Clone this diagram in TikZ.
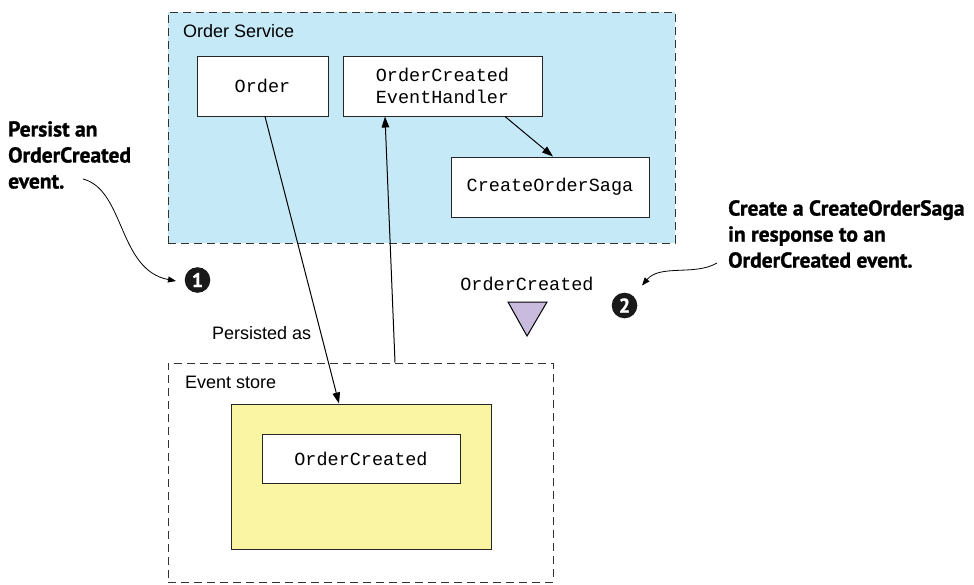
\documentclass[tikz,border=0pt]{standalone}
\usepackage{fontspec}
\setmainfont{Liberation Sans}
\newfontfamily\monof{Liberation Mono}
\newfontfamily\callf[FakeBold=1.2]{PT Sans Bold}
\usetikzlibrary{arrows.meta}
\definecolor{svcblue}{HTML}{C6E9F8}
\definecolor{storeyellow}{HTML}{F9F5A3}
\definecolor{lav}{HTML}{C9BBDD}
\definecolor{dashgray}{HTML}{333333}
\tikzset{
  box/.style={draw=black!85, line width=1pt, fill=white, inner sep=0pt, align=center,
    font=\monof\fontsize{18.5}{21.5}\selectfont},
  container/.style={draw=dashgray, line width=1pt, dash pattern=on 8pt off 5pt, inner sep=0pt},
  lbl/.style={font=\fontsize{18}{22}\selectfont, inner sep=0pt, anchor=west},
  arr/.style={line width=1pt, -{Triangle[length=11pt,width=7.5pt]}},
  callarr/.style={line width=0.8pt, -{Triangle[length=8pt,width=6pt]}},
  callout/.style={font=\callf\fontsize{21.5}{26}\selectfont, align=left, inner sep=0pt, anchor=north west},
  numtext/.style={text=white, inner sep=0pt, font=\callf\fontsize{20}{20}\selectfont}
}
\begin{document}
\begin{tikzpicture}[x=1pt,y=-1pt]
\useasboundingbox (0,0) rectangle (974,584);
% containers
\node[container, fill=svcblue, minimum width=507pt, minimum height=231pt] (svc) at (421.5,127.5) {};
\node[lbl] (svclbl) at (183,31) {Order Service};
\node[container, fill=white, minimum width=385pt, minimum height=219pt] (store) at (360.5,472.5) {};
\node[lbl] (storelbl) at (185,382) {Event store};
\node[draw=black!85, line width=1pt, fill=storeyellow, minimum width=260pt, minimum height=145pt, inner sep=0pt] (yellow) at (361,476.5) {};
% boxes
\node[box, minimum width=131pt, minimum height=60pt] (order) at (262.5,86) {Order};
\node[box, minimum width=199pt, minimum height=60pt] (handler) at (442.5,86) {OrderCreated\\EventHandler};
\node[box, minimum width=198pt, minimum height=60pt] (saga) at (550,187) {CreateOrderSaga};
\node[box, minimum width=198pt, minimum height=49pt] (evt) at (361,458.5) {OrderCreated};
% connectors
\draw[arr] ([xshift=2.5pt]order.south) -- ([xshift=-22pt]yellow.north);
\draw[arr] ([xshift=34.5pt]store.north) -- ([xshift=-57.5pt]handler.south);
\draw[arr] ([xshift=62.5pt]handler.south) -- ([xshift=3pt]saga.north);
\node[lbl] (pers) at (212,333) {Persisted as};
% event symbol
\node[font=\monof\fontsize{18.5}{21.5}\selectfont, inner sep=0pt] (ocl) at (527,284) {OrderCreated};
\coordinate (t1) at (508,302);
\coordinate (t2) at (547,302);
\coordinate (t3) at (527,336);
\draw[line width=1pt, fill=lav] (t1) -- (t2) -- (t3) -- cycle;
% numbered markers
\coordinate (n1c) at (197.5,280);
\coordinate (n2c) at (624.5,305.5);
\fill[black!90] (n1c) circle[radius=12.8pt];
\fill[black!90] (n2c) circle[radius=12.8pt];
\node[numtext] (n1) at (n1c) {1};
\node[numtext] (n2) at (n2c) {2};
% callouts
\node[callout] (c1) at (8,121) {Persist an\\OrderCreated\\event.};
\node[callout] (c2) at (728,200) {Create a CreateOrderSaga\\in response to an\\OrderCreated event.};
\coordinate (c1s) at (83,179);
\coordinate (c2s) at (717,263);
\draw[callarr] (c1s) .. controls (125,190) and (118,270) .. ([xshift=-21.5pt,yshift=-1pt]n1c);
\draw[callarr] (c2s) .. controls (695,276) and (660,264) .. ([xshift=17.5pt,yshift=20pt]n2c);
\end{tikzpicture}
\end{document}
